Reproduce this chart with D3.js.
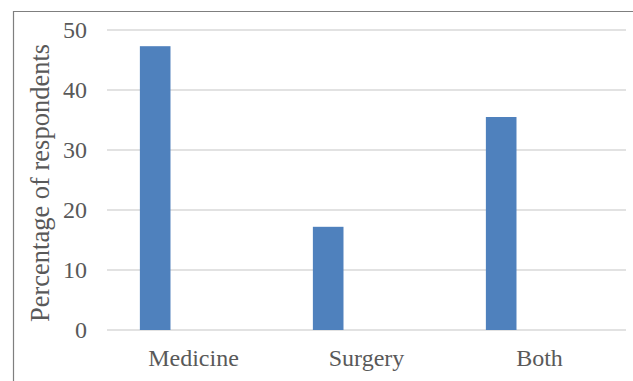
<!DOCTYPE html>
<html>
<head>
<meta charset="utf-8">
<script src="https://cdn.jsdelivr.net/npm/d3@7"></script>
<style>
  body { margin: 0; background: #fff; }
  svg { display: block; }
  text { font-family: 'Liberation Serif', Tinos, 'Times New Roman', Times, 'DejaVu Serif', serif; fill: #595959; }
</style>
</head>
<body>
<div id="chart"></div>
<script>
var categories = ['Medicine', 'Surgery', 'Both'];
var values = [47.3, 17.2, 35.5];
var yTicks = [0, 10, 20, 30, 40, 50];

var width = 633, height = 381;
var margin = {left: 107, right: 7, top: 30, bottom: 51};

var svg = d3.select('#chart').append('svg')
  .attr('width', width)
  .attr('height', height);

// outer frame (right/bottom edges run off the picture)
svg.append('path')
  .attr('d', 'M13.5,' + height + 'V11.5H' + width)
  .attr('fill', 'none')
  .attr('stroke', '#7f7f7f')
  .attr('stroke-width', 1.2);

var x = d3.scaleBand()
  .domain(categories)
  .range([margin.left, width - margin.right]);

var y = d3.scaleLinear()
  .domain([0, 50])
  .range([height - margin.bottom, margin.top]);

var g = svg.append('g');

g.selectAll('line.grid')
  .data(yTicks)
  .enter().append('line')
    .attr('class', 'grid')
    .attr('x1', margin.left)
    .attr('x2', width - margin.right)
    .attr('y1', function(d){ return y(d); })
    .attr('y2', function(d){ return y(d); })
    .attr('stroke', '#d9d9d9')
    .attr('stroke-width', 1.3);

g.selectAll('text.tick')
  .data(yTicks)
  .enter().append('text')
    .attr('class', 'tick')
    .attr('x', 87)
    .attr('y', function(d){ return y(d); })
    .attr('dy', '0.35em')
    .attr('text-anchor', 'end')
    .style('font-size', '24px')
    .text(function(d){ return d; });

// bars sit in the left part of each category slot
g.selectAll('rect.bar')
  .data(values)
  .enter().append('rect')
    .attr('class', 'bar')
    .attr('x', function(d, i){ return x(categories[i]) + x.bandwidth() * 0.19; })
    .attr('width', x.bandwidth() * 0.177)
    .attr('y', function(d){ return y(d); })
    .attr('height', function(d){ return y(0) - y(d); })
    .style('fill', '#4f81bd');

g.selectAll('text.cat')
  .data(categories)
  .enter().append('text')
    .attr('class', 'cat')
    .attr('x', function(d){ return x(d) + x.bandwidth() / 2; })
    .attr('y', 366)
    .attr('text-anchor', 'middle')
    .style('font-size', '24px')
    .text(function(d){ return d; });

svg.append('text')
  .attr('transform', 'translate(49,' + ((y(0) + y(50)) / 2 + 3) + ') rotate(-90)')
  .attr('text-anchor', 'middle')
  .style('font-size', '26.5px')
  .text('Percentage of respondents');
</script>
</body>
</html>
